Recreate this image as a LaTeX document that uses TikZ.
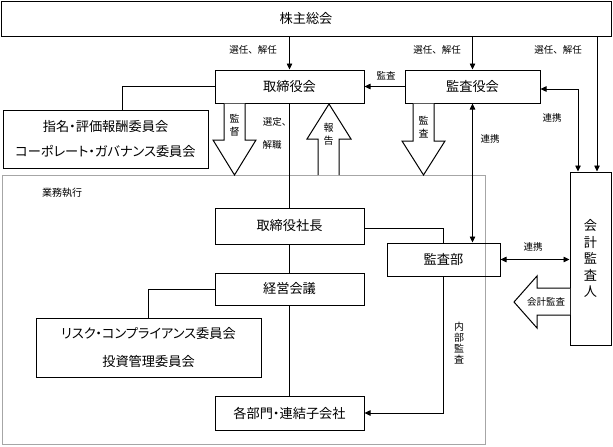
\documentclass[tikz,border=0pt]{standalone}
\usepackage{fontspec}
\setmainfont{Noto Sans CJK JP}
\newfontfamily\pfont[RawFeature=+palt]{Noto Sans CJK JP}
\usetikzlibrary{arrows.meta}
\tikzset{
  box/.style={draw, line width=1pt, inner sep=0pt, font=\fontsize{13.2}{16}\selectfont, align=center},
  ln/.style={line width=0.8pt},
  arr/.style={ln, -{Triangle[length=6pt,width=5.5pt]}},
  darr/.style={ln, {Triangle[length=6pt,width=5.5pt]}-{Triangle[length=6pt,width=5.5pt]}},
  lbl/.style={font=\fontsize{9.5}{11}\selectfont, inner sep=0pt},
  vlbl/.style={font=\fontsize{10}{12.5}\selectfont, inner sep=0pt, align=center},
  blk/.style={draw, line width=1pt, fill=white, line join=miter},
}
\begin{document}
\begin{tikzpicture}[x=1pt,y=-1pt]
\useasboundingbox (0,0) rectangle (613,447);
% outer execution frame
\node[draw=gray!70, line width=0.9pt, minimum width=483pt, minimum height=269pt, inner sep=0pt] (exec) at (243.5,309.5) {};
\node[lbl, font=\fontsize{10}{12}\selectfont] (execlbl) at (62,193) {業務執行};

% boxes
\node[box, minimum width=610pt, minimum height=35pt] (sh) at (306,18.5) {株主総会};
\node[box, minimum width=149pt, minimum height=33pt] (tb) at (289.5,86.5) {取締役会};
\node[box, minimum width=135pt, minimum height=33pt] (ka) at (472.5,86.5) {監査役会};
\node[box, minimum width=205pt, minimum height=58pt, font=\pfont\fontsize{13.2}{25}\selectfont] (nm) at (105.5,139) {指名・評価報酬委員会\\コーポレート・ガバナンス委員会};
\node[box, minimum width=41pt, minimum height=173pt, font=\fontsize{13.2}{16.5}\selectfont] (gk) at (590.5,258.5) {会\\計\\監\\査\\人};
\node[box, minimum width=149pt, minimum height=36pt] (sp) at (289.5,226) {取締役社長};
\node[box, minimum width=113pt, minimum height=33pt] (kb) at (443.5,259.5) {監査部};
\node[box, minimum width=149pt, minimum height=32pt] (kk) at (289.5,289) {経営会議};
\node[box, minimum width=225pt, minimum height=59pt, font=\pfont\fontsize{13.2}{28}\selectfont] (rc) at (148.5,347.5) {リスク・コンプライアンス委員会\\投資管理委員会};
\node[box, minimum width=149pt, minimum height=34pt, font=\pfont\fontsize{13.2}{16}\selectfont] (bm) at (289.5,413) {各部門・連結子会社};

% connectors
\draw[arr] (tb.north |- sh.south) -- (tb.north);
\draw[arr] (ka.north |- sh.south) -- (ka.north);
\draw[arr] ([xshift=6.5pt]gk.north |- sh.south) -- ([xshift=6.5pt]gk.north);
\draw[arr] (ka.west) -- (tb.east);
\draw[darr] ([yshift=-2.5pt]ka.east) -| ([xshift=-12.5pt]gk.north);
\draw[darr] (ka.south) -- (ka.south |- kb.north);
\draw[darr] (kb.east) -- (kb.east -| gk.west);
\draw[ln] ([yshift=-2pt]sp.east) -| (kb.north);
\draw[arr] (kb.south) |- (bm.east);
\draw[ln] (tb.south) -- (sp.north);
\draw[ln] (sp.south) -- (kk.north);
\draw[ln] (kk.south) -- (bm.north);
\draw[ln] (tb.west) -| ([xshift=16.5pt]nm.north);
\draw[ln] (kk.west) -| (rc.north);

% labels
\node[lbl] (l1) at (253,50) {選任、解任};
\node[lbl] (l2) at (437,50) {選任、解任};
\node[lbl] (l3) at (558,50) {選任、解任};
\node[lbl] (l4) at (386,76) {監査};
\node[lbl] (l5) at (277,122) {選定、};
\node[lbl] (l6) at (272,145) {解職};
\node[lbl] (l7) at (552,118) {連携};
\node[lbl] (l8) at (490,139) {連携};
\node[lbl] (l9) at (533,247) {連携};

% block arrows
\draw[blk] (224,103.5) -- (224,140) -- (213,140) -- (234.5,175) -- (256,140) -- (245,140) -- (245,103.5);
\node[vlbl] (t1) at (234.5,125) {監\\督};
\draw[blk] (413,103.5) -- (413,141) -- (402,141) -- (423.5,175) -- (445,141) -- (434,141) -- (434,103.5);
\node[vlbl] (t2) at (423.5,127) {監\\査};
\draw[blk] (318,175) -- (318,139) -- (307,139) -- (329,104) -- (351,139) -- (339,139) -- (339,175);
\node[vlbl] (t3) at (328.5,134) {報\\告};
\draw[blk] (570,288) -- (537,288) -- (537,276) -- (514,302) -- (537,328) -- (537,315) -- (570,315);
\node[lbl] (t4) at (546,302) {会計監査};
\node[vlbl, font=\fontsize{10}{11}\selectfont] (t5) at (459,343) {内\\部\\監\\査};
\end{tikzpicture}
\end{document}
